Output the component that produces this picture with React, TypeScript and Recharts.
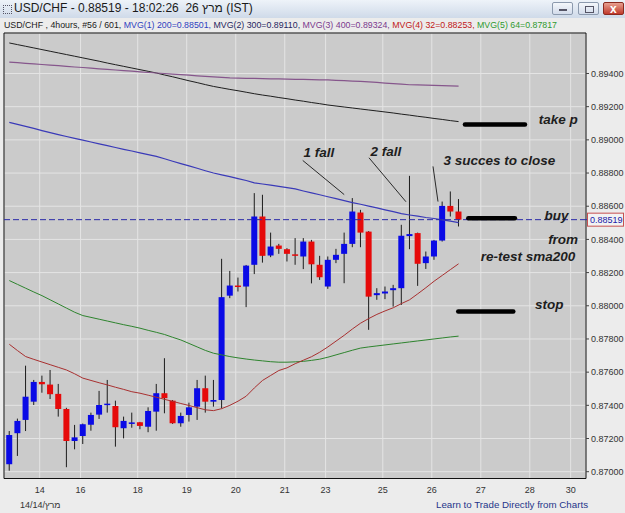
import React from 'react';
import {
  ComposedChart,
  Bar,
  Line,
  XAxis,
  YAxis,
  CartesianGrid,
  ReferenceLine,
  ReferenceDot,
  ReferenceArea,
} from 'recharts';

// USD/CHF 4h candles, 56 bars
const open = [
  0.87045, 0.87232, 0.87312, 0.87422, 0.87541, 0.87525, 0.87469, 0.87378, 0.87185, 0.87215,
  0.87283, 0.87344, 0.87406, 0.87396, 0.87262, 0.87295, 0.87298, 0.87271, 0.87362, 0.87473,
  0.87428, 0.87292, 0.87342, 0.87392, 0.87503, 0.87422, 0.87432, 0.88061, 0.88122, 0.88116,
  0.88247, 0.88538, 0.88303, 0.88363, 0.88341, 0.8831, 0.88297, 0.88387, 0.88247, 0.88116,
  0.88277, 0.88313, 0.88373, 0.88562, 0.88447, 0.88064, 0.88074, 0.88094, 0.88106, 0.8842,
  0.88438, 0.88257, 0.88297, 0.88393, 0.88602, 0.88568,
];
const close = [
  0.87221, 0.87306, 0.87452, 0.87541, 0.87527, 0.87467, 0.87378, 0.87185, 0.87207, 0.87286,
  0.87342, 0.87402, 0.8741, 0.87268, 0.87306, 0.87297, 0.87276, 0.87366, 0.87473, 0.87443,
  0.87292, 0.87336, 0.87388, 0.87503, 0.87422, 0.87432, 0.88052, 0.88122, 0.88116, 0.88242,
  0.88538, 0.88301, 0.88357, 0.88343, 0.88313, 0.88304, 0.88387, 0.8825, 0.88172, 0.88277,
  0.88307, 0.88373, 0.88568, 0.88441, 0.88055, 0.88076, 0.88086, 0.88106, 0.88422, 0.88432,
  0.88253, 0.88297, 0.88393, 0.88602, 0.88568, 0.88519,
];
const high = [
  0.87245, 0.8732, 0.87639, 0.87553, 0.87579, 0.87613, 0.87529, 0.87385, 0.87282, 0.8729,
  0.87356, 0.87487, 0.87553, 0.87428, 0.87332, 0.87356, 0.873, 0.87388, 0.87529, 0.87684,
  0.87432, 0.87356, 0.87416, 0.87553, 0.87579, 0.87553, 0.88283, 0.8821, 0.8817, 0.88246,
  0.88679, 0.88669, 0.88441, 0.88373, 0.88347, 0.88408, 0.88408, 0.88397, 0.88301, 0.88297,
  0.88343, 0.88441, 0.88649, 0.88578, 0.8845, 0.88106, 0.88116, 0.88126, 0.88488, 0.88783,
  0.88441, 0.88327, 0.88397, 0.88628, 0.88689, 0.88643,
];
const low = [
  0.87006, 0.87095, 0.87245, 0.87402, 0.87476, 0.87438, 0.87332, 0.87027, 0.87135, 0.87167,
  0.87247, 0.87318, 0.87356, 0.87151, 0.87201, 0.87265, 0.87256, 0.87238, 0.87247, 0.87352,
  0.87288, 0.87271, 0.87302, 0.87312, 0.87356, 0.87392, 0.87382, 0.88046, 0.88086, 0.87992,
  0.88191, 0.8826, 0.88293, 0.88313, 0.88267, 0.88247, 0.88221, 0.88135, 0.88156, 0.88102,
  0.88257, 0.88136, 0.88353, 0.88353, 0.87855, 0.88036, 0.8804, 0.87995, 0.88005, 0.88341,
  0.8812, 0.88222, 0.88277, 0.88387, 0.88538, 0.88478,
];

// moving averages
const mvg200 = [
  0.89105, 0.89093, 0.89081, 0.89069, 0.89056, 0.89044, 0.89032, 0.8902, 0.89009, 0.88998,
  0.88987, 0.88976, 0.88965, 0.88954, 0.88943, 0.88933, 0.88922, 0.88911, 0.889, 0.88886,
  0.88871, 0.88857, 0.88843, 0.88829, 0.88814, 0.888, 0.88789, 0.88778, 0.88766, 0.88755,
  0.88741, 0.88734, 0.88727, 0.8872, 0.88712, 0.88705, 0.88692, 0.8868, 0.88669, 0.88657,
  0.88646, 0.88634, 0.88622, 0.88612, 0.88601, 0.8859, 0.88578, 0.88567, 0.88555, 0.88547,
  0.8854, 0.88532, 0.88526, 0.88518, 0.8851, 0.88501,
];
const mvg300 = [
  0.89584, 0.89574, 0.89564, 0.89554, 0.89544, 0.89534, 0.89524, 0.89514, 0.89504, 0.89494,
  0.89484, 0.89474, 0.89463, 0.89453, 0.89443, 0.89433, 0.89423, 0.89413, 0.89403, 0.89391,
  0.8938, 0.89368, 0.89356, 0.89345, 0.89333, 0.89322, 0.89313, 0.89304, 0.89296, 0.89287,
  0.89278, 0.8927, 0.89263, 0.89255, 0.89248, 0.8924, 0.89233, 0.89225, 0.89218, 0.8921,
  0.89204, 0.89198, 0.89192, 0.89186, 0.8918, 0.89174, 0.89168, 0.89162, 0.89155, 0.89149,
  0.89142, 0.89136, 0.89129, 0.89123, 0.89116, 0.8911,
];
const mvg400 = [
  0.89469, 0.89465, 0.89461, 0.89458, 0.89454, 0.8945, 0.89447, 0.89443, 0.89439, 0.89436,
  0.89432, 0.89428, 0.89425, 0.89421, 0.89417, 0.89414, 0.8941, 0.89406, 0.89403, 0.894,
  0.89396, 0.89393, 0.8939, 0.89386, 0.89383, 0.8938, 0.89376, 0.89373, 0.89372, 0.89371,
  0.8937, 0.89369, 0.89368, 0.89367, 0.89366, 0.89365, 0.89364, 0.89363, 0.89362, 0.89361,
  0.89359, 0.89357, 0.89354, 0.89352, 0.89349, 0.89346, 0.89342, 0.89339, 0.89336, 0.89332,
  0.89331, 0.8933, 0.89328, 0.89327, 0.89325, 0.89324,
];
const mvg32 = [
  0.87768, 0.8773, 0.87694, 0.87677, 0.87661, 0.87645, 0.87629, 0.87613, 0.8759, 0.87564,
  0.8755, 0.87536, 0.87523, 0.87509, 0.87496, 0.87482, 0.87473, 0.87461, 0.87449, 0.87436,
  0.87424, 0.87411, 0.87399, 0.87386, 0.87373, 0.87368, 0.8738, 0.874, 0.87425, 0.87455,
  0.87505, 0.8755, 0.8758, 0.8761, 0.87626, 0.87651, 0.87672, 0.87693, 0.8772, 0.87752,
  0.87787, 0.87822, 0.8786, 0.87895, 0.87923, 0.87948, 0.87969, 0.87988, 0.88013, 0.88036,
  0.88072, 0.88109, 0.88148, 0.88183, 0.88218, 0.88253,
];
const mvg64 = [
  0.88152, 0.88129, 0.88106, 0.88083, 0.88061, 0.88036, 0.88011, 0.87986, 0.87961, 0.87941,
  0.8793, 0.87919, 0.87908, 0.87897, 0.87886, 0.87876, 0.87865, 0.87852, 0.8784, 0.87827,
  0.8781, 0.87794, 0.87773, 0.87752, 0.87731, 0.87714, 0.87704, 0.87694, 0.87686, 0.87679,
  0.87673, 0.87668, 0.87663, 0.8766, 0.8766, 0.87662, 0.87665, 0.87671, 0.87678, 0.8769,
  0.87704, 0.87718, 0.87732, 0.87745, 0.87752, 0.87758, 0.87764, 0.8777, 0.87776, 0.87782,
  0.87788, 0.87794, 0.878, 0.87806, 0.87812, 0.87817,
];

// x axis: bar index where each day's grid line sits, and its label
const dayBars = [3, 8, 15, 21, 27, 33, 38, 45, 51, 57, 63, 68];
const dayLabels = ['14', '16', '18', '19', '20', '21', '23', '25', '26', '27', '28', '30'];
const yTicks = [0.87, 0.872, 0.874, 0.876, 0.878, 0.88, 0.882, 0.884, 0.886, 0.888, 0.89, 0.892, 0.894];

const lastPrice = 0.88519;
const takeProfit = 0.89093;
const entry = 0.88528;
const stopLoss = 0.87965;

const FONT = "'Liberation Sans', Arial, sans-serif";
const X_DOMAIN: [number, number] = [-0.65, 70.6];
const Y_DOMAIN: [number, number] = [0.86959, 0.89644];
const GRID_SHIFT = 0.72;

const rows = open.map((o, i) => ({
  i,
  open: o,
  close: close[i],
  high: high[i],
  low: low[i],
  mvg200: mvg200[i],
  mvg300: mvg300[i],
  mvg400: mvg400[i],
  mvg32: mvg32[i],
  mvg64: mvg64[i],
}));

const dayTicks = dayBars.map((b) => b + GRID_SHIFT);

// annotation anchors (bar index / price)
const notes = [
  { text: '1 fall', i: 37.9, p: 0.88924 },
  { text: '2  fall', i: 46.1, p: 0.8893 },
  { text: '3 succes to close', i: 60.0, p: 0.88876 },
  { text: 'take p', i: 67.2, p: 0.89121 },
  { text: 'buy', i: 67.0, p: 0.88542 },
  { text: 'from', i: 67.8, p: 0.88397 },
  { text: 're-test sma200', i: 63.5, p: 0.88297 },
  { text: 'stop', i: 66.1, p: 0.88005 },
];
const pointers = [
  [{ x: 35.92, y: 0.88876 }, { x: 41.0, y: 0.8867 }],
  [{ x: 44.03, y: 0.88892 }, { x: 48.56, y: 0.88627 }],
  [{ x: 51.87, y: 0.8884 }, { x: 52.48, y: 0.88628 }],
];
const levels = [
  { from: 55.78, to: 63.13, p: takeProfit },
  { from: 56.19, to: 61.9, p: entry },
  { from: 54.96, to: 61.7, p: stopLoss },
];

function Candle(props: any) {
  const { x, y, width, height, payload } = props;
  if (x == null || !payload) return null;
  const top = Math.min(y, y + height);
  const h = Math.abs(height);
  const { open: o, close: c, high: hi, low: lo } = payload;
  const k = hi > lo ? h / (hi - lo) : 0;
  const yOf = (v: number) => top + (hi - v) * k;
  const cx = x + width / 2;
  const bodyTop = yOf(Math.max(o, c));
  const bodyH = Math.max(1.5, Math.abs(yOf(o) - yOf(c)));
  return (
    <g>
      <line x1={cx} x2={cx} y1={top} y2={top + h} stroke="#1c1c1c" strokeWidth={1} />
      <rect x={cx - 3} y={bodyTop} width={6} height={bodyH} fill={c >= o ? '#0a0ae6' : '#e60a0a'} />
    </g>
  );
}

function PriceTag(props: any) {
  const vb = props.viewBox;
  if (!vb) return null;
  const x = vb.x + vb.width;
  const y = vb.y;
  return (
    <g>
      <line x1={x} x2={x + 4} y1={y} y2={y} stroke="#2a2aa8" strokeDasharray="2 2" />
      <rect x={x + 1.5} y={y - 6.5} width={36} height={13} fill="#f3f3f3" stroke="#c85050" />
      <text x={x + 4} y={y + 3.3} fontSize={9} fontFamily={FONT} fill="#2020a8">
        {lastPrice.toFixed(5)}
      </text>
    </g>
  );
}

function NoteText(text: string) {
  return (props: any) => (
    <text
      x={props.cx}
      y={props.cy}
      textAnchor="middle"
      dominantBaseline="central"
      fontFamily={FONT}
      fontSize={13.5}
      fontWeight="bold"
      fontStyle="italic"
      fill="#1e1e1e"
    >
      {text}
    </text>
  );
}

const btn = (left: number, red?: boolean): React.CSSProperties => ({
  position: 'absolute',
  left,
  top: 2,
  width: 21,
  height: 13,
  borderRadius: 2,
  border: red ? '1px solid #8a2a20' : '1px solid #8c9aae',
  background: red ? 'linear-gradient(#e8a090,#c0392b)' : 'linear-gradient(#f4f7fb,#d3dceb)',
  boxSizing: 'border-box',
});

export default function App() {
  return (
    <div
      style={{
        position: 'absolute',
        left: 0,
        top: 0,
        width: 625,
        height: 513,
        background: '#ececec',
        fontFamily: FONT,
        overflow: 'hidden',
      }}
    >
      {/* window title bar */}
      <div
        style={{
          position: 'absolute',
          left: 0,
          top: 0,
          width: 625,
          height: 18,
          background: 'linear-gradient(#eef3f9,#cfdae9)',
        }}
      >
        <div style={{ position: 'absolute', left: 3, top: 5, width: 7, height: 7, border: '1px dotted #556' }} />
        <div style={{ position: 'absolute', left: 14, top: 1, fontSize: 12, color: '#1a1a1a', whiteSpace: 'pre' }}>
          {'USD/CHF - 0.88519 - 18:02:26  26 מרץ (IST)'}
        </div>
        <div style={btn(552)}>
          <div style={{ position: 'absolute', left: 6, top: 6, width: 8, height: 2, background: '#556' }} />
        </div>
        <div style={btn(578)}>
          <div style={{ position: 'absolute', left: 6, top: 3, width: 7, height: 5, border: '1px solid #556' }} />
        </div>
        <div style={btn(603, true)}>
          <div style={{ position: 'absolute', left: 6, top: -1, color: '#fff', fontSize: 12, fontWeight: 'bold' }}>x</div>
        </div>
      </div>

      {/* info line */}
      <svg style={{ position: 'absolute', left: 0, top: 18 }} width={625} height={13}>
        <text x={4} y={10} fontSize={9.5} fontFamily={FONT} textLength={553} lengthAdjust="spacingAndGlyphs">
          <tspan fill="#1a1a1a">USD/CHF , 4hours, #56 / 601, </tspan>
          <tspan fill="#2f3fc0">MVG(1) 200=0.88501, </tspan>
          <tspan fill="#262660">MVG(2) 300=0.89110, </tspan>
          <tspan fill="#7a3a8e">MVG(3) 400=0.89324, </tspan>
          <tspan fill="#c01818">MVG(4) 32=0.88253, </tspan>
          <tspan fill="#2f9a2f">MVG(5) 64=0.87817</tspan>
        </text>
      </svg>

      <div style={{ position: 'absolute', left: 0, top: 0 }}>
        <ComposedChart width={625} height={513} data={rows} margin={{ top: 33, right: 0, bottom: 0, left: 4 }}>
          <CartesianGrid fill="#cbcbcb" stroke="#e4e4e4" strokeWidth={1} />
          <XAxis
            dataKey="i"
            type="number"
            domain={X_DOMAIN}
            ticks={dayTicks}
            interval={0}
            allowDataOverflow
            height={34.5}
            axisLine={false}
            tickLine={false}
            tickSize={4}
            tickMargin={4}
            tick={{ fontSize: 9, fill: '#333', fontFamily: FONT }}
            tickFormatter={(_v: number, idx: number) => dayLabels[idx]}
          />
          <YAxis
            orientation="right"
            type="number"
            domain={Y_DOMAIN}
            ticks={yTicks}
            interval={0}
            allowDataOverflow
            width={39}
            axisLine={false}
            tickLine={{ stroke: '#444' }}
            tickSize={3}
            tickMargin={2}
            tick={{ fontSize: 9, fill: '#333', fontFamily: FONT, textAnchor: 'start' }}
            tickFormatter={(v: number) => v.toFixed(5)}
          />
          <Line type="linear" dataKey="mvg300" stroke="#1e1e1e" strokeWidth={1} dot={false} isAnimationActive={false} />
          <Line type="linear" dataKey="mvg400" stroke="#86568c" strokeWidth={1.2} dot={false} isAnimationActive={false} />
          <Line type="linear" dataKey="mvg200" stroke="#3a3ab8" strokeWidth={1.2} dot={false} isAnimationActive={false} />
          <Line type="linear" dataKey="mvg64" stroke="#2e842e" strokeWidth={1} dot={false} isAnimationActive={false} />
          <Line type="linear" dataKey="mvg32" stroke="#a83030" strokeWidth={1} dot={false} isAnimationActive={false} />
          <ReferenceLine
            y={lastPrice}
            stroke="#2a2aa8"
            strokeDasharray="6 3"
            label={<PriceTag />}
          />
          <Bar
            dataKey={(d: any) => [d.low, d.high]}
            barSize={6}
            shape={(p: any) => <Candle {...p} />}
            isAnimationActive={false}
          />
          {pointers.map((seg, k) => (
            <ReferenceLine key={`p${k}`} segment={seg} stroke="#2a2a2a" strokeWidth={1} />
          ))}
          {levels.map((l, k) => (
            <ReferenceLine
              key={`l${k}`}
              segment={[{ x: l.from, y: l.p }, { x: l.to, y: l.p }]}
              stroke="#000"
              strokeWidth={4.5}
              strokeLinecap="round"
            />
          ))}
          {notes.map((n, k) => (
            <ReferenceDot key={`n${k}`} x={n.i} y={n.p} r={0} shape={NoteText(n.text)} />
          ))}
          <ReferenceArea
            x1={X_DOMAIN[0]}
            x2={X_DOMAIN[1]}
            y1={Y_DOMAIN[0]}
            y2={Y_DOMAIN[1]}
            fill="none"
            stroke="#111"
            strokeWidth={1}
          />
        </ComposedChart>
      </div>

      {/* footer */}
      <svg style={{ position: 'absolute', left: 0, top: 497 }} width={625} height={16}>
        <text x={20} y={11} fontSize={9} fontFamily={FONT} fill="#333">
          14/14/מרץ
        </text>
        <text x={436} y={11} fontSize={9.5} fontFamily={FONT} fill="#25358a" textLength={152} lengthAdjust="spacingAndGlyphs">
          Learn to Trade Directly from Charts
        </text>
      </svg>
    </div>
  );
}
